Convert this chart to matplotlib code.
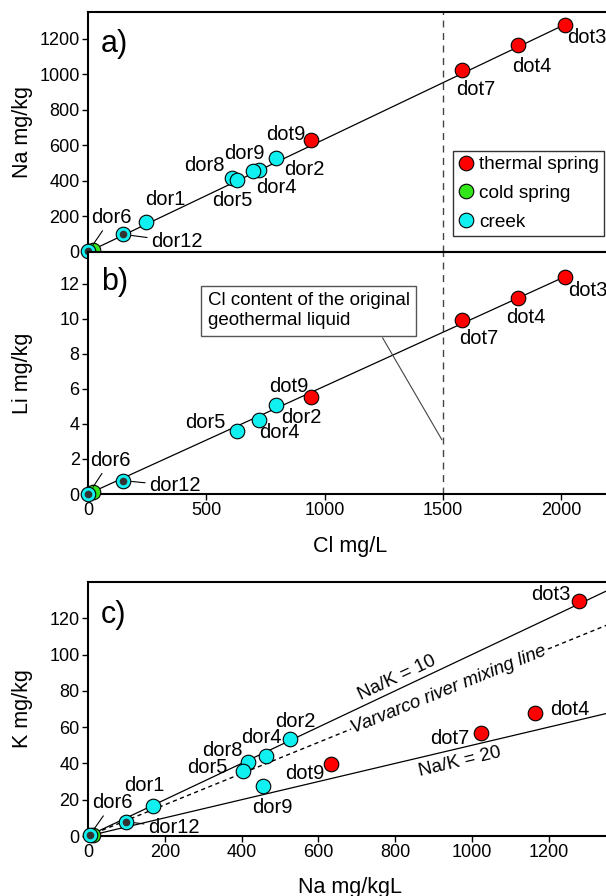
import numpy as np
import matplotlib.pyplot as plt
from matplotlib.lines import Line2D

plt.rcParams['font.family'] = ['Liberation Sans', 'DejaVu Sans']

# sample names and groups
names = ['dot3', 'dot4', 'dot7', 'dot9',
         'dor2', 'dor4', 'dor9', 'dor8', 'dor5', 'dor1', 'dor12', 'dor6',
         'cold']
groups = ['thermal'] * 4 + ['creek'] * 8 + ['cold']

# concentrations
cl = [2014, 1818, 1582, 942, 795, 721, 699, 609, 628, 244, 149, 2, 20]
na = [1278, 1165, 1024, 632, 526, 463, 456, 418, 404, 169, 99, 4, 12]
li = [12.38, 11.2, 9.92, 5.54, 5.06, 4.21, np.nan, np.nan, 3.58, np.nan, 0.76, 0.0, 0.1]
k = [129.6, 67.8, 56.8, 39.9, 53.3, 44.3, 27.6, 41.0, 36.0, 16.5, 7.9, 0.3, 0.6]

dark_center = ['dor12', 'dor6']

na_cl_slope = 0.635
li_cl_slope = 0.00615
mixing_slope = 0.086
cl_geothermal = 1500

colors = {'thermal': '#ff0000', 'cold': '#33e61a', 'creek': '#11f0f0'}
legend_names = {'thermal': 'thermal spring', 'cold': 'cold spring', 'creek': 'creek'}

FS_TICK = 13
FS_LAB = 14.5
FS_AX = 15.5

W, H = 606, 896
fig = plt.figure(figsize=(W / 100, H / 100), dpi=100)

def box(x0, y0, x1, y1):
    return [x0 / W, 1 - y1 / H, (x1 - x0) / W, (y1 - y0) / H]

ax_a = fig.add_axes(box(88, 12, 612, 252))
ax_b = fig.add_axes(box(88, 252, 612, 494))
ax_c = fig.add_axes(box(88, 582, 612, 836))

xmax_ab = 2214
xmax_c = 1365


def style(ax):
    for s in ['top', 'left', 'bottom']:
        ax.spines[s].set_linewidth(1.5)
    ax.spines['right'].set_visible(False)
    ax.tick_params(direction='out', length=4, width=1, labelsize=FS_TICK, pad=2)
    ax.yaxis.set_label_coords(-0.105, 0.5)


def draw_points(ax, xs, ys):
    for g in ['cold', 'thermal', 'creek']:
        xx = [x for x, gg in zip(xs, groups) if gg == g]
        yy = [y for y, gg in zip(ys, groups) if gg == g]
        ax.plot(xx, yy, 'o', ms=10.5, mfc=colors[g], mec='black', mew=0.8,
                clip_on=False, zorder=5)
    for nm in dark_center:
        i = names.index(nm)
        ax.plot(xs[i], ys[i], 'o', ms=5.5, mfc='#333333', mec='none',
                clip_on=False, zorder=6)


def label_points(ax, xs, ys, offsets, leaders=()):
    for nm, (dx, dy, ha) in offsets.items():
        i = names.index(nm)
        if np.isnan(ys[i]):
            continue
        kw = {}
        if nm in leaders:
            kw['arrowprops'] = dict(arrowstyle='-', lw=0.8, color='black',
                                    shrinkA=1, shrinkB=6)
        ax.annotate(nm, (xs[i], ys[i]), xytext=(dx, dy), textcoords='offset pixels',
                    ha=ha, va='center', fontsize=FS_LAB, zorder=7, **kw)


# ---- panel a
style(ax_a)
x_line = np.array([0, cl[0]])
ax_a.plot(x_line, na_cl_slope * x_line, color='black', lw=0.9, zorder=2)
ax_a.axvline(cl_geothermal, color='#444444', lw=1, ls=(0, (5, 4)), zorder=1)
draw_points(ax_a, cl, na)
offs_a = {
    'dot3': (2, -13, 'left'), 'dot4': (-6, -22, 'left'), 'dot7': (-6, -20, 'left'),
    'dot9': (-5, 5, 'right'), 'dor2': (8, -11, 'left'), 'dor4': (-3, -18, 'left'),
    'dor9': (-9, 17, 'center'), 'dor8': (-8, 12, 'right'), 'dor5': (-4, -20, 'center'),
    'dor1': (-1, 22, 'left'), 'dor12': (28, -7, 'left'), 'dor6': (3, 34, 'left'),
}
label_points(ax_a, cl, na, offs_a, leaders=('dor12', 'dor6'))
ax_a.set_xlim(0, xmax_ab)
ax_a.set_ylim(0, 1350)
ax_a.set_yticks(np.arange(0, 1201, 200))
ax_a.set_xticks([])
ax_a.set_ylabel('Na mg/kg', fontsize=FS_AX)
ax_a.text(0.025, 0.93, 'a)', transform=ax_a.transAxes, fontsize=22, va='top')
handles = [Line2D([], [], ls='none', marker='o', ms=10.5, mfc=colors[g], mec='black',
                  mew=0.8, label=legend_names[g]) for g in ['thermal', 'cold', 'creek']]
leg = ax_a.legend(handles=handles, loc='upper left', bbox_to_anchor=(0.697, 0.42),
                  borderaxespad=0, fontsize=13.7, frameon=True, fancybox=False,
                  edgecolor='black', handletextpad=0.3, handlelength=0.8,
                  borderpad=0.25, labelspacing=0.6)
leg.get_frame().set_linewidth(1)

# ---- panel b
style(ax_b)
ax_b.plot(x_line, li_cl_slope * x_line, color='black', lw=0.9, zorder=2)
ax_b.axvline(cl_geothermal, color='#444444', lw=1, ls=(0, (5, 4)), zorder=1)
draw_points(ax_b, cl, li)
offs_b = {
    'dot3': (3, -14, 'left'), 'dot4': (-12, -20, 'left'), 'dot7': (-3, -18, 'left'),
    'dot9': (-22, 10, 'center'), 'dor2': (5, -12, 'left'), 'dor4': (0, -12, 'left'),
    'dor5': (-11, 9, 'right'), 'dor12': (26, -5, 'left'), 'dor6': (2, 34, 'left'),
}
label_points(ax_b, cl, li, offs_b, leaders=('dor12', 'dor6'))
ax_b.set_xlim(0, xmax_ab)
ax_b.set_ylim(0, 13.8)
ax_b.set_yticks(np.arange(0, 13, 2))
ax_b.set_xticks(np.arange(0, 2001, 500))
ax_b.set_xlabel('Cl mg/L', fontsize=FS_AX, labelpad=12)
ax_b.set_ylabel('Li mg/kg', fontsize=FS_AX)
ax_b.text(0.025, 0.94, 'b)', transform=ax_b.transAxes, fontsize=22, va='top')
ax_b.text(505, 10.45, 'Cl content of the original\ngeothermal liquid', fontsize=13.5,
          ha='left', va='center', linespacing=1.25, zorder=8,
          bbox=dict(boxstyle='square,pad=0.35', fc='white', ec='#555555', lw=1))
ax_b.plot([1245, 1495], [8.9, 3.1], color='#444444', lw=0.8, zorder=3)

# ---- panel c
style(ax_c)
xc = np.array([0, xmax_c])
ax_c.plot(xc, xc / 10, color='black', lw=0.9, zorder=2)
ax_c.plot(xc, xc / 20, color='black', lw=0.9, zorder=2)
ax_c.plot(xc, mixing_slope * xc, color='black', lw=1, ls=(0, (3, 2.5)), zorder=2)
draw_points(ax_c, na, k)
offs_c = {
    'dot3': (-8, 6, 'right'), 'dot4': (15, 3, 'left'), 'dot7': (-12, -6, 'right'),
    'dot9': (-6, -10, 'right'), 'dor2': (5, 18, 'center'), 'dor4': (-4, 18, 'center'),
    'dor8': (-6, 11, 'right'), 'dor5': (-16, 3, 'right'), 'dor9': (9, -22, 'center'),
    'dor1': (-9, 21, 'center'), 'dor12': (22, -6, 'left'), 'dor6': (3, 33, 'left'),
}
label_points(ax_c, na, k, offs_c, leaders=('dor12', 'dor6'))
ax_c.text(805, 87, 'Na/K = 10', fontsize=13.5, ha='center', va='center',
          rotation=np.degrees(np.arctan(0.1)), transform_rotates_text=True,
          rotation_mode='anchor')
ax_c.text(968, 41, 'Na/K = 20', fontsize=13.5, ha='center', va='center',
          rotation=np.degrees(np.arctan(0.05)), transform_rotates_text=True,
          rotation_mode='anchor')
ax_c.text(940, mixing_slope * 940, 'Varvarco river mixing line', fontsize=13.5,
          style='italic', ha='center', va='center',
          rotation=np.degrees(np.arctan(mixing_slope)), transform_rotates_text=True,
          rotation_mode='anchor', zorder=4,
          bbox=dict(boxstyle='square,pad=0.05', fc='white', ec='none'))
ax_c.set_xlim(0, xmax_c)
ax_c.set_ylim(0, 140)
ax_c.set_yticks(np.arange(0, 121, 20))
ax_c.set_xticks(np.arange(0, 1201, 200))
ax_c.set_xlabel('Na mg/kgL', fontsize=FS_AX, labelpad=11)
ax_c.set_ylabel('K mg/kg', fontsize=FS_AX)
ax_c.text(0.025, 0.93, 'c)', transform=ax_c.transAxes, fontsize=22, va='top')

fig.savefig('out.png', dpi=100, facecolor='white')
